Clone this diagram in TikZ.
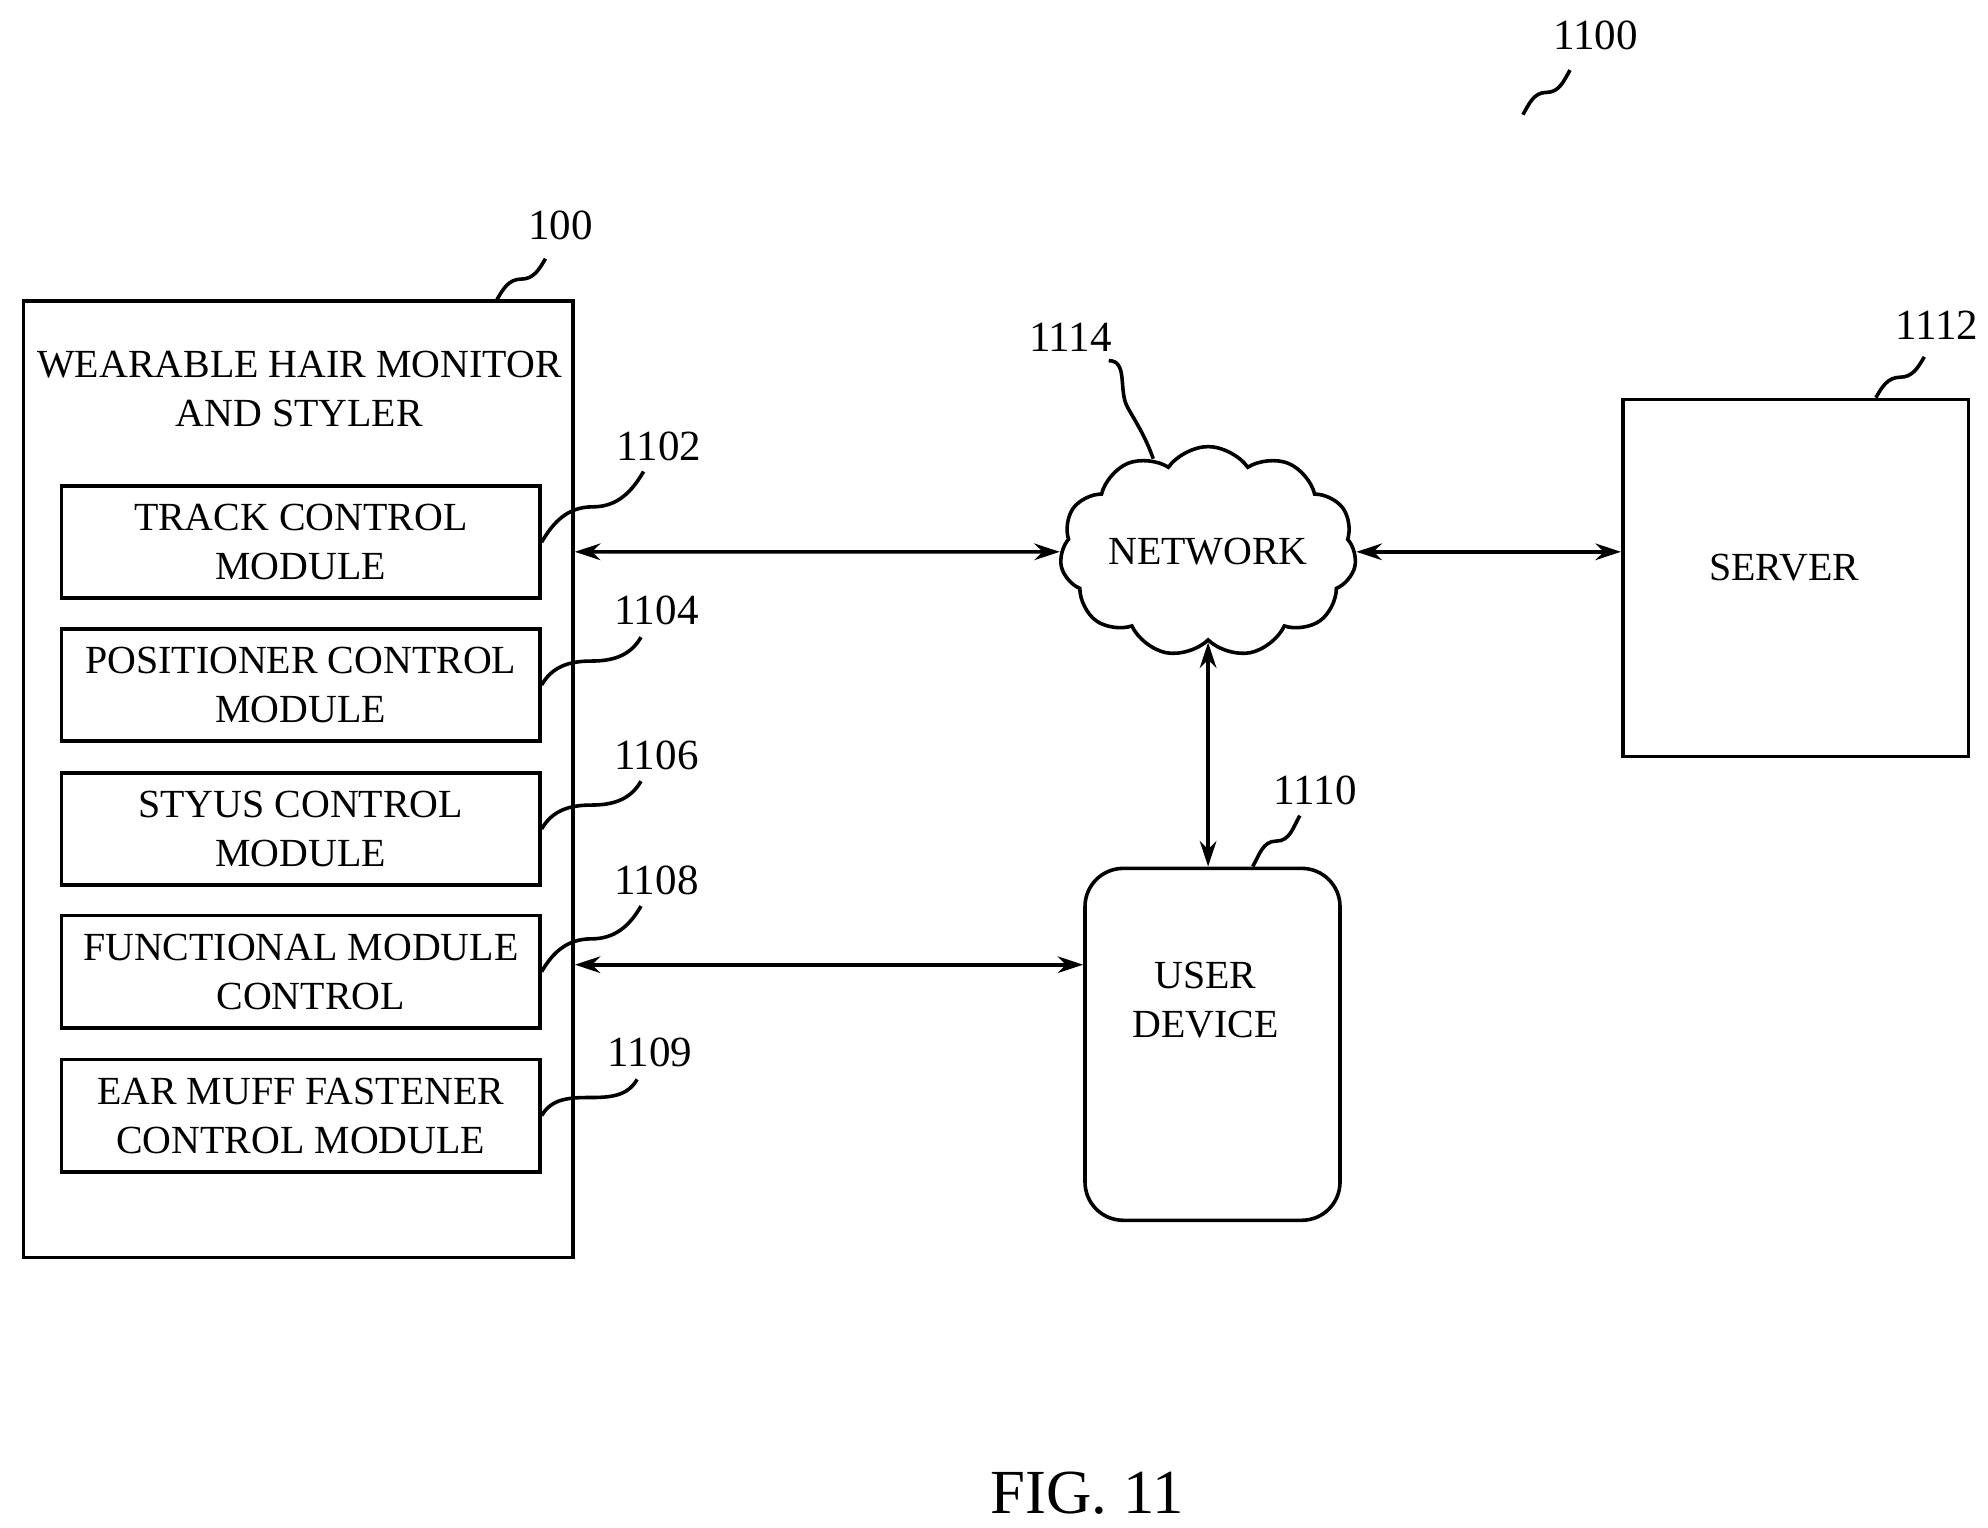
\documentclass[tikz,border=0pt]{standalone}
\usepackage{fontspec}
\setmainfont{Liberation Serif}
\usetikzlibrary{shapes.symbols,arrows.meta,calc}
\tikzset{
     block/.style = { draw, thick, align=center, anchor=north west },
    module/.style = { block, minimum width=3.75cm, minimum height=0.88cm },
       ref/.style = { font=\fontsize{9.6}{12}\selectfont },
    leader/.style = { thick },
     arrow/.style = { thick, {Stealth[length=0.2cm,width=0.13cm]}-{Stealth[length=0.2cm,width=0.13cm]} },
}
\newcommand*{\squiggle}[2]{\draw [leader] (#1) to[out=60,in=180] ($(#1)!0.5!(#2)$) to[out=0,in=240] (#2);}

\begin{document}
\begin{tikzpicture}[x=0.01cm, y=-0.01cm, font=\fontsize{8.9}{10.9}\selectfont]
  \useasboundingbox (0,0) rectangle (1560,1199);
  % outer device
  \node (dev) [block, minimum width=4.31cm, minimum height=7.5cm] at (17,235) {};
  \node (title) at (235,305) [align=center] {WEARABLE HAIR MONITOR\\AND STYLER};
  \node (m1) [module] at (47,380) {};
  \node (m2) [module] at (47,492) {};
  \node (m3) [module] at (47,605) {};
  \node (m4) [module] at (47,717) {};
  \node (m5) [module] at (47,830) {};
  \node at (m1) [align=center] {TRACK CONTROL\\MODULE};
  \node at (m2) [align=center] {POSITIONER CONTROL\\MODULE};
  \node at (m3) [align=center] {STYUS CONTROL\\MODULE};
  \node at (m4) [align=center] {FUNCTIONAL MODULE\\\hspace*{0.5em}CONTROL};
  \node at (m5) [align=center] {EAR MUFF FASTENER\\CONTROL MODULE};
  % others
  \node (net) [cloud, draw, thick, cloud puffs=11, cloud puff arc=110, aspect=1.6,
               inner sep=0pt, minimum width=2.1cm, minimum height=1.55cm] at (948,433) {NETWORK};
  \node (srv) [block, minimum width=2.71cm, minimum height=2.8cm] at (1272,312) {};
  \node at (1400,445) {SERVER};
  \node (usr) [block, rounded corners=0.3cm, minimum width=2cm, minimum height=2.76cm] at (850,680) {};
  \node at (946,785) [align=center] {USER\\DEVICE};
  % connectors
  \draw [arrow] (dev.east |- 0,433) -- (net.west);
  \draw [arrow] (net.east) -- (srv.west |- net.east);
  \draw [arrow] (net.south) -- (usr.north -| net.south);
  \draw [arrow] (dev.east |- 0,757) -- (usr.west |- 0,757);
  % reference numerals
  \node (r1100) [ref] at (1252,28) {1100};
  \node (r100) [ref] at (440,177) {100};
  \node (r1102) [ref] at (517,350) {1102};
  \node (r1104) [ref] at (515,479) {1104};
  \node (r1106) [ref] at (515,593) {1106};
  \node (r1108) [ref] at (515,691) {1108};
  \node (r1109) [ref] at (510,826) {1109};
  \node (r1110) [ref] at (1032,620) {1110};
  \node (r1112) [ref] at (1520,255) {1112};
  \node (r1114) [ref] at (840,265) {1114};
  \squiggle{1195,90}{1232,55}
  \squiggle{390,235}{428,203}
  \squiggle{m1.east}{505,370}
  \squiggle{m2.east}{503,500}
  \squiggle{m3.east}{503,613}
  \squiggle{m4.east}{503,711}
  \squiggle{m5.east}{500,847}
  \squiggle{983,680}{1020,640}
  \squiggle{1472,312}{1510,280}
  \draw [leader] (905,360) to[out=110,in=-60] (885,320) to[out=120,in=0] (870,283);
  \node (fig) at (853,1172) {\fontsize{14}{17}\selectfont FIG. 11};
\end{tikzpicture}
\end{document}
